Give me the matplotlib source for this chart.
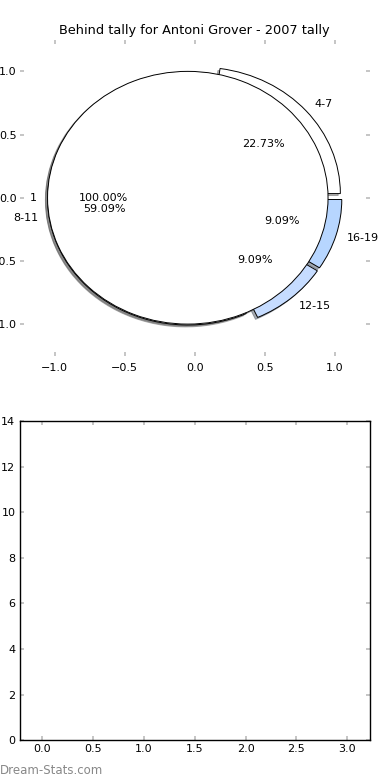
import matplotlib
matplotlib.use('Agg')
import matplotlib.pyplot as plt

title = 'Behind tally for Antoni Grover - 2007 tally'
inner_labels = ['1']
inner_values = [22]
outer_labels = ['4-7', '8-11', '12-15', '16-19']
outer_values = [5, 13, 2, 2]
outer_colors = ['white', 'white', '#c6dcff', '#b7d6ff']

bar_xlim = (-0.225, 3.225)
bar_ylim = (0, 14)

plt.rcParams['font.family'] = 'DejaVu Sans'
plt.rcParams['font.size'] = 8

fig = plt.figure(figsize=(3.9, 7.8), dpi=100)

shadow = {'ox': -0.011, 'oy': -0.011, 'shade': 0.6}
wp = {'linewidth': 0.7, 'edgecolor': 'black'}

ax1 = fig.add_axes([0.05, 0.544, 0.899, 0.405])
ax1.pie(outer_values, labels=outer_labels, colors=outer_colors,
        explode=[0.05] * len(outer_values), autopct='%1.2f%%',
        shadow=shadow, radius=1.0, startangle=0, labeldistance=1.08,
        wedgeprops=wp)
ax1.pie(inner_values, labels=inner_labels, colors=['white'],
        explode=[0.05], autopct='%1.2f%%', shadow=shadow, radius=1.0,
        startangle=0, labeldistance=1.08, wedgeprops=wp)
ax1.set_aspect('auto')
ax1.set_frame_on(False)
ax1.set_xlim(-1.25, 1.25)
ax1.set_ylim(-1.25, 1.25)
ax1.set_xticks([-1.0, -0.5, 0.0, 0.5, 1.0])
ax1.set_yticks([-1.0, -0.5, 0.0, 0.5, 1.0])
ax1.tick_params(direction='in', top=True, right=True, color='#bbbbbb',
                length=3, width=1.2, labelsize=8)
ax1.tick_params(axis='x', pad=5)
ax1.tick_params(axis='y', pad=2)
ax1.set_title(title, fontsize=9.3, pad=4)

ax2 = fig.add_axes([0.05, 0.051, 0.899, 0.409])
ax2.set_xlim(*bar_xlim)
ax2.set_ylim(*bar_ylim)
ax2.set_xticks([0.0, 0.5, 1.0, 1.5, 2.0, 2.5, 3.0])
ax2.set_yticks([0, 2, 4, 6, 8, 10, 12, 14])
ax2.tick_params(direction='in', top=True, right=True, color='#bbbbbb',
                length=3, width=1.2, labelsize=8, pad=3)
for s in ax2.spines.values():
    s.set_linewidth(1.0)

fig.text(0.0, 0.004, 'Dream-Stats.com', color='#888888', fontsize=8.5,
         ha='left', va='bottom')

fig.savefig('out.png', dpi=100)
